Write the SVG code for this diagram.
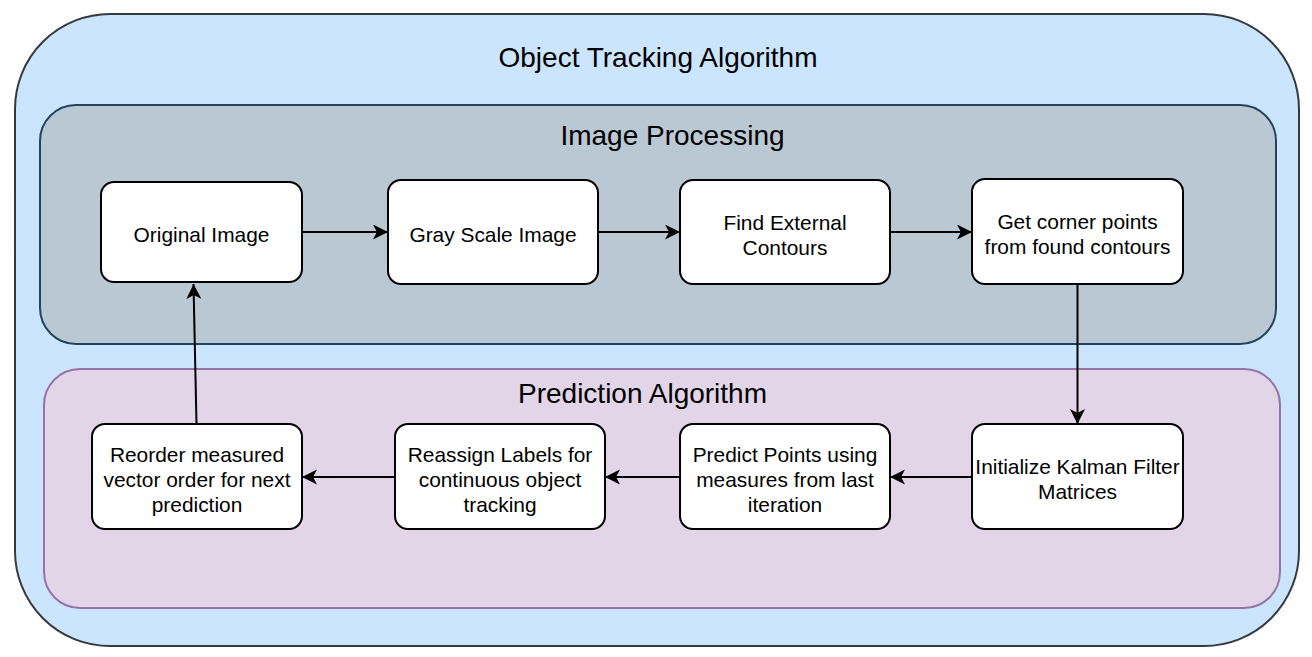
<svg xmlns="http://www.w3.org/2000/svg" width="1312" height="657" viewBox="0 0 1312 657">
<defs>
<style>
.node rect{fill:#ffffff;stroke:#000000;stroke-width:2}
.node text,.lbl{font-family:"Liberation Sans",Arial,sans-serif;fill:#000000;text-anchor:middle}
.node text{font-size:20.9px}
.lbl{font-size:28px}
.conn line{stroke:#000000;stroke-width:2;fill:none;marker-end:url(#arr)}
</style>
<marker id="arr" markerUnits="userSpaceOnUse" markerWidth="16" markerHeight="16" refX="15" refY="7.5" orient="auto">
<path d="M15,7.5 L0,0 L4,7.5 L0,15 Z" fill="#000000"/>
</marker>
</defs>
<rect width="1312" height="657" fill="#ffffff"/>
<g id="outer">
<rect x="15" y="14" width="1284" height="632" rx="95" ry="95" fill="#cce5ff" stroke="#36393d" stroke-width="2"/>
<text class="lbl" x="658" y="67">Object Tracking Algorithm</text>
</g>
<g id="image-processing">
<rect x="40" y="105" width="1236" height="239" rx="36" ry="36" fill="#bac8d3" stroke="#23445d" stroke-width="2"/>
<text class="lbl" x="672.5" y="145">Image Processing</text>
</g>
<g id="prediction-algorithm">
<rect x="44" y="369" width="1236" height="239" rx="36" ry="36" fill="#e1d5e7" stroke="#9673a6" stroke-width="2"/>
<text class="lbl" x="642.5" y="403">Prediction Algorithm</text>
</g>
<g class="conn" id="connectors">
<line x1="302" y1="232" x2="388" y2="232"/>
<line x1="598" y1="232" x2="680" y2="232"/>
<line x1="890" y1="232" x2="972" y2="232"/>
<line x1="1077.5" y1="284" x2="1077.5" y2="424"/>
<line x1="972" y1="477" x2="890" y2="477"/>
<line x1="680" y1="477" x2="605" y2="477"/>
<line x1="395" y1="477" x2="302" y2="477"/>
<line x1="196.5" y1="424" x2="193.5" y2="284"/>
</g>
<g class="node" id="n-original">
<rect x="101" y="182" width="201" height="100" rx="13" ry="13"/>
<text x="201.5" y="242">Original Image</text>
</g>
<g class="node" id="n-gray">
<rect x="388" y="180" width="210" height="104" rx="13" ry="13"/>
<text x="493" y="242">Gray Scale Image</text>
</g>
<g class="node" id="n-contours">
<rect x="680" y="180" width="210" height="104" rx="13" ry="13"/>
<text x="785" y="229.5">Find External</text>
<text x="785" y="254.5">Contours</text>
</g>
<g class="node" id="n-corners">
<rect x="972" y="179" width="211" height="105" rx="13" ry="13"/>
<text x="1077.5" y="229">Get corner points</text>
<text x="1077.5" y="254">from found contours</text>
</g>
<g class="node" id="n-kalman">
<rect x="972" y="424" width="211" height="105" rx="13" ry="13"/>
<text x="1077.5" y="474">Initialize Kalman Filter</text>
<text x="1077.5" y="499">Matrices</text>
</g>
<g class="node" id="n-predict">
<rect x="680" y="424" width="210" height="105" rx="13" ry="13"/>
<text x="785" y="461.5">Predict Points using</text>
<text x="785" y="486.5">measures from last</text>
<text x="785" y="511.5">iteration</text>
</g>
<g class="node" id="n-reassign">
<rect x="395" y="424" width="210" height="105" rx="13" ry="13"/>
<text x="500" y="461.5">Reassign Labels for</text>
<text x="500" y="486.5">continuous object</text>
<text x="500" y="511.5">tracking</text>
</g>
<g class="node" id="n-reorder">
<rect x="92" y="424" width="210" height="105" rx="13" ry="13"/>
<text x="197" y="461.5">Reorder measured</text>
<text x="197" y="486.5">vector order for next</text>
<text x="197" y="511.5">prediction</text>
</g>
</svg>
